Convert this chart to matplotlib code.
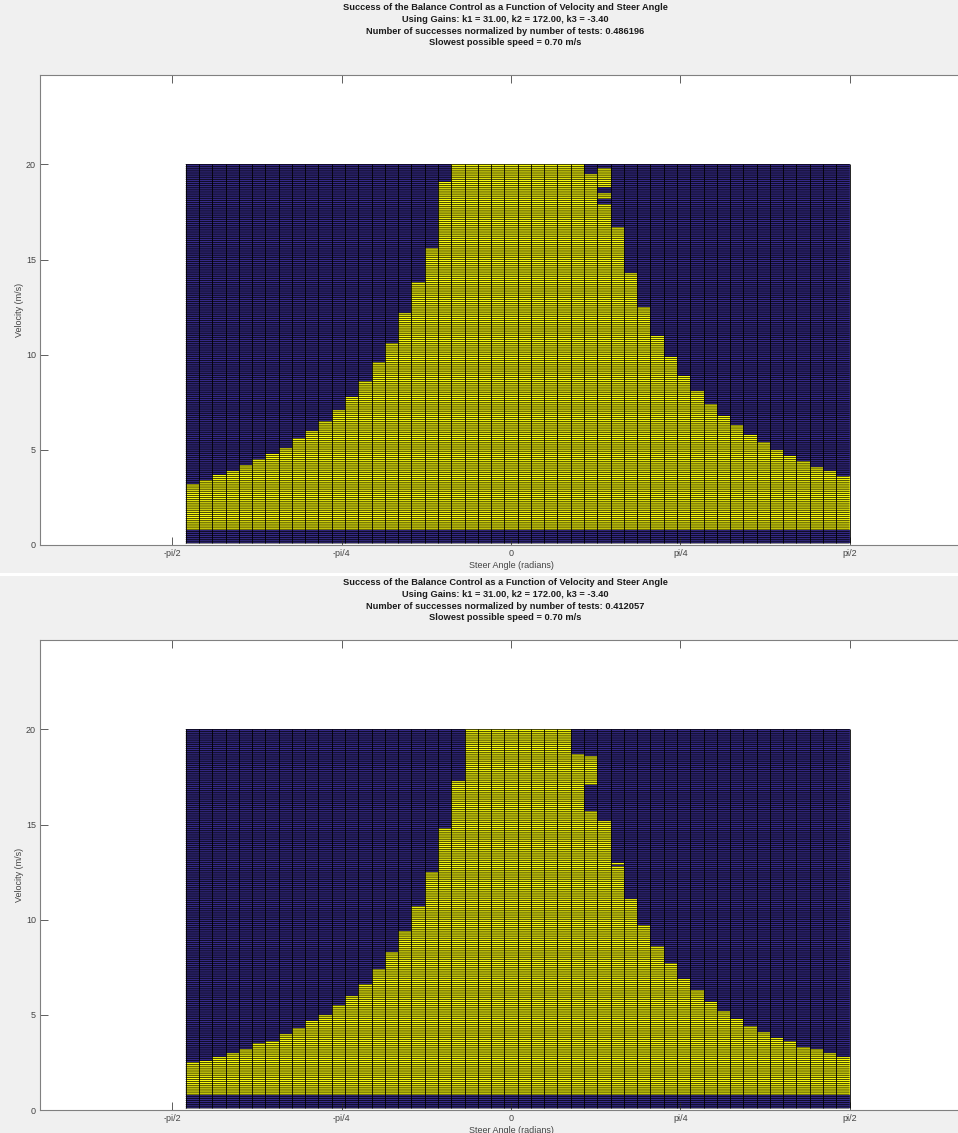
import numpy as np
import matplotlib.pyplot as plt
from matplotlib.colors import ListedColormap

plt.rcParams['font.family'] = ['Liberation Sans', 'DejaVu Sans']

# grid of test conditions (cell edges)
steer_edges = np.linspace(-np.pi / 2, np.pi / 2, 52)[1:]
speed_edges = np.round(np.arange(0.1, 20.01, 0.1), 1)
min_speed = 0.8

# highest successful speed for each steer angle column
top_a = [3.2, 3.4, 3.7, 3.9, 4.2, 4.5, 4.8, 5.1, 5.6, 6.0, 6.5, 7.1, 7.8, 8.6, 9.6,
         10.6, 12.2, 13.8, 15.6, 19.1,
         20, 20, 20, 20, 20, 20, 20, 20, 20, 20,
         19.5, 17.9, 16.7, 14.3, 12.5, 11.0, 9.9, 8.9, 8.1, 7.4, 6.8, 6.3, 5.8, 5.4,
         5.0, 4.7, 4.4, 4.1, 3.9, 3.6]
# (column, from, to) extra successful bands above the boundary
extra_a = [(31, 18.2, 18.5), (31, 18.8, 19.8)]

top_b = [2.5, 2.6, 2.8, 3.0, 3.2, 3.5, 3.6, 4.0, 4.3, 4.7, 5.0, 5.5, 6.0, 6.6, 7.4,
         8.3, 9.4, 10.7, 12.5, 14.8, 17.3,
         20, 20, 20, 20, 20, 20, 20, 20,
         18.7, 15.7, 15.2, 12.8, 11.1, 9.7, 8.6, 7.7, 6.9, 6.3, 5.7, 5.2, 4.8, 4.4,
         4.1, 3.8, 3.6, 3.3, 3.2, 3.0, 2.8]
extra_b = [(30, 17.1, 18.6), (32, 12.9, 13.0)]

gains = (31.00, 172.00, -3.40)
ratios = [0.486196, 0.412057]
slowest = 0.70

xticks = [-np.pi / 2, -np.pi / 4, 0, np.pi / 4, np.pi / 2]
xticklabels = ['-pi/2', '-pi/4', '0', 'pi/4', 'pi/2']
yticks = [0, 5, 10, 15, 20]


def success_grid(top, extra):
    lo = speed_edges[:-1][:, None]
    hi = speed_edges[1:][:, None]
    eps = 1e-6
    C = ((lo >= min_speed - eps) & (hi <= np.array(top)[None, :] + eps)).astype(float)
    for col, a, b in extra:
        rows = (lo[:, 0] >= a - eps) & (hi[:, 0] <= b + eps)
        C[rows, col] = 1.0
    return C


W, H = 958, 1133
fig = plt.figure(figsize=(W / 100, H / 100), dpi=100, facecolor='#f0f0f0')
cmap = ListedColormap(['#352a87', '#f9fb0e'])

# white seam between the two windows
fig.patches.append(plt.Rectangle((0, 1 - 576 / H), 1, 3 / H, transform=fig.transFigure,
                                 facecolor='white', edgecolor='none'))

panels = [(top_a, extra_a, ratios[0], 0, 545),
          (top_b, extra_b, ratios[1], 575, 1110)]

for top, extra, ratio, y0, ybot in panels:
    ax = fig.add_axes([40 / W, 1 - ybot / H, 942 / W, 470 / H])
    C = success_grid(top, extra)
    # faces first, then the black cell outlines on top
    ax.pcolormesh(steer_edges, speed_edges, C, cmap=cmap, vmin=0, vmax=1,
                  shading='flat', antialiased=False, edgecolors='none')
    rows = ax.hlines(speed_edges, steer_edges[0], steer_edges[-1], colors='k', linewidth=0.5)
    rows.set_snap(False)
    ax.vlines(steer_edges, speed_edges[0], speed_edges[-1], colors='k', linewidth=0.6)
    ax.set_xlim(-2.185, 2.185)
    ax.set_ylim(0, 24.7)
    ax.set_xticks(xticks)
    ax.set_xticklabels(xticklabels)
    ax.set_yticks(yticks)
    ax.tick_params(direction='in', length=6, width=0.6, colors='#444444',
                   labelsize=6.5, top=True, right=True, pad=3)
    for s in ax.spines.values():
        s.set_color('#808080')
        s.set_linewidth(0.8)
    ax.set_xlabel('Steer Angle (radians)', fontsize=6.5, color='#444444', labelpad=2)
    ax.set_ylabel('Velocity (m/s)', fontsize=6.5, color='#444444', labelpad=1)

    lines = ['Success of the Balance Control as a Function of Velocity and Steer Angle',
             'Using Gains: k1 = %.2f, k2 = %.2f, k3 = %.2f' % gains,
             'Number of successes normalized by number of tests: %f' % ratio,
             'Slowest possible speed = %.2f m/s' % slowest]
    for i, s in enumerate(lines):
        fig.text(505 / W, 1 - (y0 + 7.5 + 11.8 * i) / H, s, ha='center', va='center',
                 fontsize=6.7, fontweight='bold', color='#1a1a1a')

fig.savefig('out.png', dpi=100, facecolor=fig.get_facecolor())
